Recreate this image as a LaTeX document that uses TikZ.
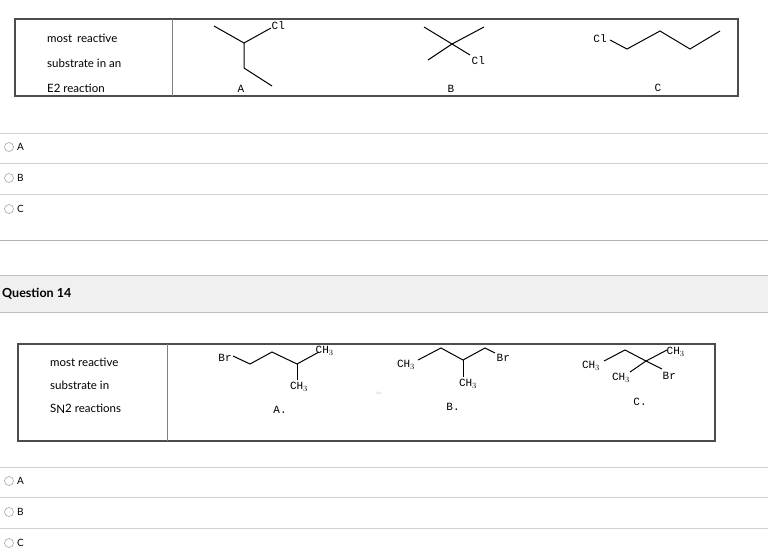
\documentclass[tikz,border=0pt]{standalone}
\usepackage{fontspec}
\setmainfont{Lato}
\newfontfamily\chem{Liberation Mono}
\begin{document}
\begin{tikzpicture}[x=1pt,y=-1pt,
 bond/.style={line width=1pt},
 ch/.style={font=\chem\fontsize{11}{11}\selectfont,inner sep=0.5pt},
 lbl/.style={font=\fontsize{11.5}{12}\selectfont,anchor=west,inner sep=0},
 sep/.style={draw=gray!35,line width=0.8pt},
 opt/.style={font=\fontsize{10}{10}\selectfont,anchor=west,inner sep=0},
 radio/.style={circle,draw=gray!70,line width=0.6pt,minimum size=9pt,inner sep=0}]
\useasboundingbox (0,0) rectangle (768,555);
% top box
\draw[line width=1.6pt,gray!60!black] (15,19) rectangle (738,96);
\draw[line width=0.8pt,gray] (172,19) -- (172,96);
\node[lbl] (t1) at (47,38) {most\, reactive};
\node[lbl] (t2) at (47,63) {substrate in an};
\node[lbl] (t3) at (47,88) {E2 reaction};
% A
\draw[bond] (214,26) -- (244,43) -- (271,28);
\draw[bond] (244,43) -- (244,68) -- (272,86);
\node[ch,anchor=west] (clA) at (271,26) {Cl};
\node[ch] (A) at (241,89) {A};
% B
\draw[bond] (424,27) -- (452,44) -- (484,27);
\draw[bond] (428,60) -- (452,44) -- (470,55);
\node[ch,anchor=west] (clB) at (471,61) {Cl};
\node[ch] (B) at (451,89) {B};
% C
\node[ch] (clC) at (600,39) {Cl};
\draw[bond] (610,40) -- (627,49) -- (660,31) -- (690,49) -- (720,31);
\node[ch] (C) at (658,88) {C};
% options 1
\foreach \y/\l [count=\i] in {147/A,178/B,209/C}{
  \node[radio] (r\i) at (9,\y) {};
  \node[opt] (o\i) at (17,\y) {\l};
}
\foreach \y in {133,163,194}{\draw[sep] (0,\y) -- (768,\y);}
\draw[draw=gray!60,line width=0.8pt] (0,240) -- (768,240);
% question header
\fill[gray!12] (0,275) rectangle (768,312);
\draw[gray!50] (0,275) -- (768,275);
\draw[gray!50] (0,312) -- (768,312);
\node[anchor=west,inner sep=0,font=\bfseries\fontsize{12.5}{14}\selectfont] (q) at (2,294) {Question 14};
% second box
\draw[line width=1.6pt,gray!60!black] (18,344) rectangle (715,441);
\draw[line width=0.8pt,gray] (167,344) -- (167,441);
\node[lbl] (s1) at (50,362) {most reactive};
\node[lbl] (s2) at (50,385) {substrate in};
\node[lbl] (s3) at (50,409) {S\raisebox{-1.5pt}{N}2 reactions};
% A.
\node[ch] (brA) at (225,358) {Br};
\draw[bond] (233,356) -- (250,364) -- (272,352) -- (297,364) -- (319,352);
\draw[bond] (297,364) -- (297,380);
\node[ch,anchor=west] (ch3a1) at (315,351) {CH$_3$};
\node[ch] (ch3a2) at (299,387) {CH$_3$};
\node[ch] (Ad) at (280,410) {A.};
% Text marker
\node[font=\fontsize{3}{3}\selectfont,text=gray!60] (tx) at (379,393) {Text};
% B.
\node[ch] (ch3b1) at (406,365) {CH$_3$};
\draw[bond] (418,360) -- (441,348) -- (463,360) -- (485,348) -- (495,353);
\draw[bond] (463,360) -- (463,377);
\node[ch,anchor=west] (brB) at (496,358) {Br};
\node[ch] (ch3b2) at (468,384) {CH$_3$};
\node[ch] (Bd) at (453,407) {B.};
% C.
\node[ch] (ch3c1) at (591,366) {CH$_3$};
\draw[bond] (604,361) -- (625,350) -- (646,361) -- (667,350);
\draw[bond] (630,372) -- (646,361) -- (662,369);
\node[ch,anchor=west] (ch3c2) at (666,352) {CH$_3$};
\node[ch] (ch3c3) at (621,378) {CH$_3$};
\node[ch,anchor=west] (brC) at (662,376) {Br};
\node[ch] (Cd) at (640,402) {C.};
% options 2
\foreach \y/\l [count=\i] in {481/A,512/B,543/C}{
  \node[radio] (rr\i) at (9,\y) {};
  \node[opt] (oo\i) at (17,\y) {\l};
}
\foreach \y in {467,497,528}{\draw[sep] (0,\y) -- (768,\y);}
\end{tikzpicture}
\end{document}
